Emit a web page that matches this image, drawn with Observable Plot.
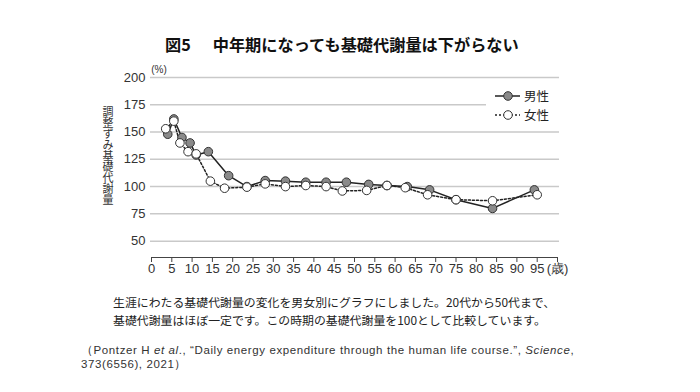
<!DOCTYPE html>
<html><head><meta charset="utf-8">
<script src="https://cdn.jsdelivr.net/npm/d3@7"></script>
<script src="https://cdn.jsdelivr.net/npm/@observablehq/plot@0.6"></script>
<style>
body{margin:0;background:#fff;}
#wrap{position:relative;width:700px;height:392px;overflow:hidden;font-family:"Noto Sans CJK JP","Noto Sans",sans-serif;color:#222;}
#title{position:absolute;left:165px;top:33px;white-space:nowrap;font-size:16.2px;font-weight:bold;line-height:22px;color:#111;}
#chart{position:absolute;left:0;top:60px;}
#ytitle{position:absolute;left:101px;top:106px;writing-mode:vertical-rl;font-size:11px;line-height:13px;letter-spacing:0.1px;color:#333;white-space:nowrap;}
#legend{position:absolute;left:486px;top:84px;width:80px;height:42px;background:#fff;}
#cap{position:absolute;left:113px;top:293px;font-size:11.9px;line-height:17.6px;color:#222;white-space:nowrap;}
#cite{position:absolute;left:81px;top:343px;font-family:"Liberation Sans",Arial,sans-serif;font-size:11.5px;letter-spacing:0.6px;line-height:14px;color:#333;white-space:nowrap;}
</style></head>
<body>
<div id="wrap">
<div id="title">図5<span style="display:inline-block;width:22px"></span>中年期になっても基礎代謝量は下がらない</div>
<div id="chart"></div>
<div id="ytitle"></div>
<div id="legend"></div>
<div id="cap">生涯にわたる基礎代謝量の変化を男女別にグラフにしました。20代から50代まで、<br>基礎代謝量はほぼ一定です。この時期の基礎代謝量を100として比較しています。</div>
<div id="cite">（Pontzer H <i>et al</i>., “Daily energy expenditure through the human life course.”, <i>Science</i>,<br>373(6556), 2021）</div>
</div>
<script>
const maleAges = [4, 5.5, 7.5, 9.5, 11, 14, 19, 23.5, 28, 33, 38, 43, 48, 53.5, 58, 63, 68.5, 75, 84, 94.3];
const maleValues = [148, 162, 145, 140, 129, 132, 110, 100, 105.5, 105, 104, 104, 104, 102, 101, 100, 97, 88, 80, 97];
const femaleAges = [3.5, 5.5, 7, 9, 11, 14.5, 18, 23.5, 28, 33, 38, 43, 47, 53, 58, 62.5, 68, 75, 84, 95];
const femaleValues = [153, 160, 140, 132, 130, 105, 98.5, 99.5, 102.5, 100, 101, 100, 96, 96.5, 101, 99, 92.5, 88, 87, 92.5];
const yTicks = [50, 75, 100, 125, 150, 175, 200];
const xTicks = [0,5,10,15,20,25,30,35,40,45,50,55,60,65,70,75,80,85,90,95,100];
const xTickLabels = ["0","5","10","15","20","25","30","35","40","45","50","55","60","65","70","75","80","85","90","95","(歳)"];
const yUnit = "(%)";
const yTitle = "調整ずみ基礎代謝量";
const seriesNames = ["男性", "女性"];

const male = maleAges.map((a, i) => ({age: a, v: maleValues[i]}));
const female = femaleAges.map((a, i) => ({age: a, v: femaleValues[i]}));

const chart = Plot.plot({
  width: 700, height: 225,
  marginLeft: 151, marginRight: 143, marginTop: 17, marginBottom: 28,
  style: {fontFamily: "'Liberation Sans', Arial, sans-serif", fontSize: "13px", color: "#333", background: "transparent"},
  x: {domain: [0, 100], label: null},
  y: {domain: [35, 200], label: null},
  marks: [
    Plot.ruleY(yTicks, {x1: -0.25, x2: 100.5, stroke: "#c9c9c9", strokeWidth: 1.5}),
    Plot.ruleY([35], {x1: 0, x2: 100, stroke: "#444", strokeWidth: 1}),
    Plot.axisX({ticks: xTicks, tickSize: 5, tickPadding: 1, stroke: "#444", label: null, tickFormat: d => xTickLabels[xTicks.indexOf(d)], fontSize: 13, fill: "#333"}),
    Plot.axisY({ticks: yTicks, tickSize: 0, tickPadding: 6, fontSize: 13, fill: "#333", label: null}),
    Plot.text([yUnit], {frameAnchor: "top-left", dx: 7.5, dy: -12, fontSize: 10, fill: "#333", textAnchor: "middle"}),
    Plot.line(female, {x: "age", y: "v", stroke: "#222", strokeWidth: 1.5, strokeDasharray: "2,2"}),
    Plot.line(male, {x: "age", y: "v", stroke: "#222", strokeWidth: 1.5}),
    Plot.dot(male, {x: "age", y: "v", r: 4.3, fill: "#8a8a8a", stroke: "#333", strokeWidth: 1}),
    Plot.dot(female, {x: "age", y: "v", r: 4.3, fill: "#fff", stroke: "#333", strokeWidth: 1})
  ]
});
document.getElementById("chart").appendChild(chart);
document.getElementById("ytitle").textContent = yTitle;

// legend
const lg = d3.select("#legend").append("svg").attr("width", 80).attr("height", 42);
[[0, "#8a8a8a", null], [1, "#fff", "2,2"]].forEach(([i, fill, dash]) => {
  const y = 12 + i * 19;
  lg.append("line").attr("x1", 9).attr("x2", 34).attr("y1", y).attr("y2", y)
    .attr("stroke", "#222").attr("stroke-width", 1.5).attr("stroke-dasharray", dash);
  lg.append("circle").attr("cx", 22).attr("cy", y).attr("r", 4.3).attr("fill", fill).attr("stroke", "#333");
  lg.append("text").attr("x", 38).attr("y", y).attr("dy", "0.36em").attr("font-size", 12.5)
    .attr("font-family", "Noto Sans CJK JP").attr("fill", "#222").text(seriesNames[i]);
});
</script>
</body></html>
